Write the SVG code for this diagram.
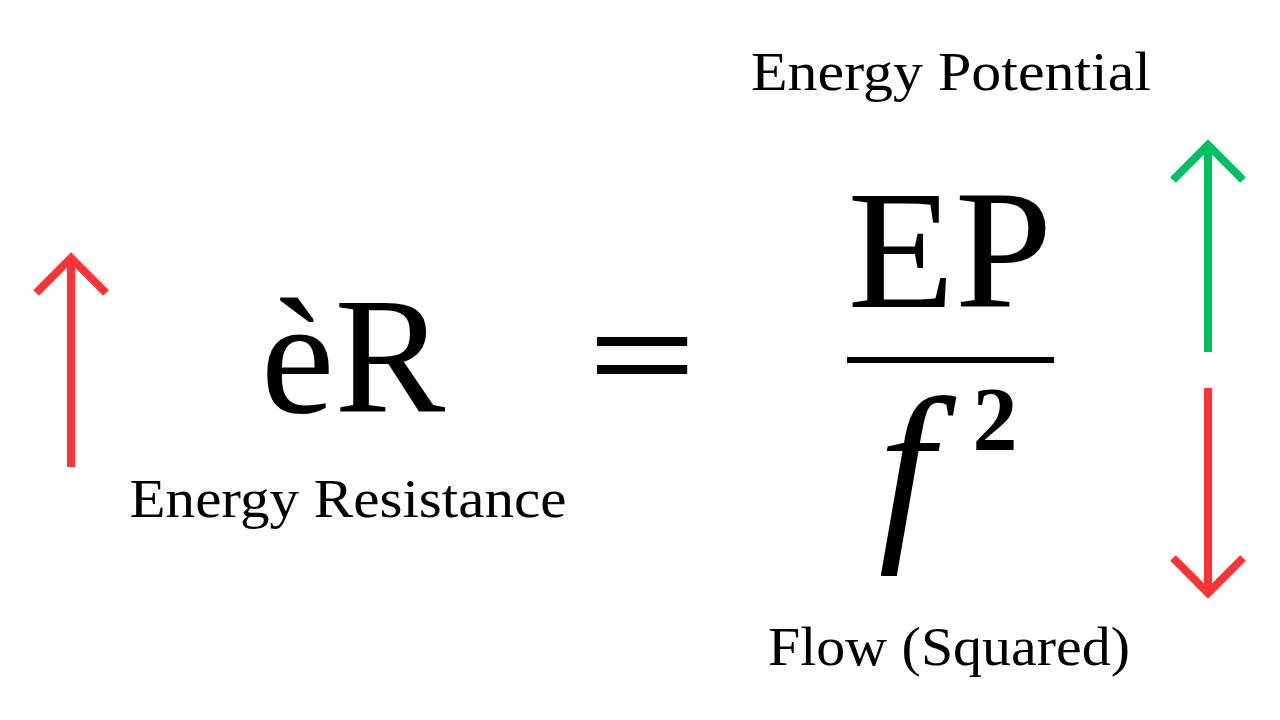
<svg xmlns="http://www.w3.org/2000/svg" width="1280" height="720" viewBox="0 0 1280 720">
<style>
.t{font-family:"Liberation Serif","Times New Roman",serif;fill:#000}
.lbl{font-size:54px}
.red{stroke:#FF3333;stroke-width:8;fill:none}
.green{stroke:#00C060;stroke-width:8;fill:none}
</style>
<rect width="1280" height="720" fill="#fff"/>
<g id="left-arrow">
<path class="red" d="M71,467 V258 M36,293 L71,258 L106,293"/>
</g>
<g id="lhs">
<text class="t" x="353" y="412" font-size="166" text-anchor="middle">èR</text>
<text class="t lbl" x="348" y="517" text-anchor="middle" textLength="437" lengthAdjust="spacingAndGlyphs">Energy Resistance</text>
</g>
<g id="equals">
<text class="t" x="642" y="402" font-size="140" text-anchor="middle" textLength="106" lengthAdjust="spacingAndGlyphs" stroke="#000" stroke-width="2">=</text>
</g>
<g id="fraction">
<text class="t" x="950" y="307" font-size="169" text-anchor="middle" textLength="205" lengthAdjust="spacingAndGlyphs">EP</text>
<rect x="847" y="357" width="207" height="6" fill="#000"/>
<text class="t" x="906" y="534" font-size="198" font-style="italic" text-anchor="middle">f</text>
<text class="t" x="995" y="450" font-size="90" font-weight="bold" text-anchor="middle">2</text>
</g>
<g id="labels">
<text class="t lbl" x="951" y="90" text-anchor="middle" textLength="400" lengthAdjust="spacingAndGlyphs">Energy Potential</text>
<text class="t lbl" x="949" y="665" text-anchor="middle" textLength="362" lengthAdjust="spacingAndGlyphs">Flow (Squared)</text>
</g>
<g id="connectors">
<path class="green" d="M1208,352 V145 M1173,180 L1208,145 L1243,180"/>
<path class="red" d="M1208,388 V593 M1173,558 L1208,593 L1243,558"/>
</g>
</svg>
